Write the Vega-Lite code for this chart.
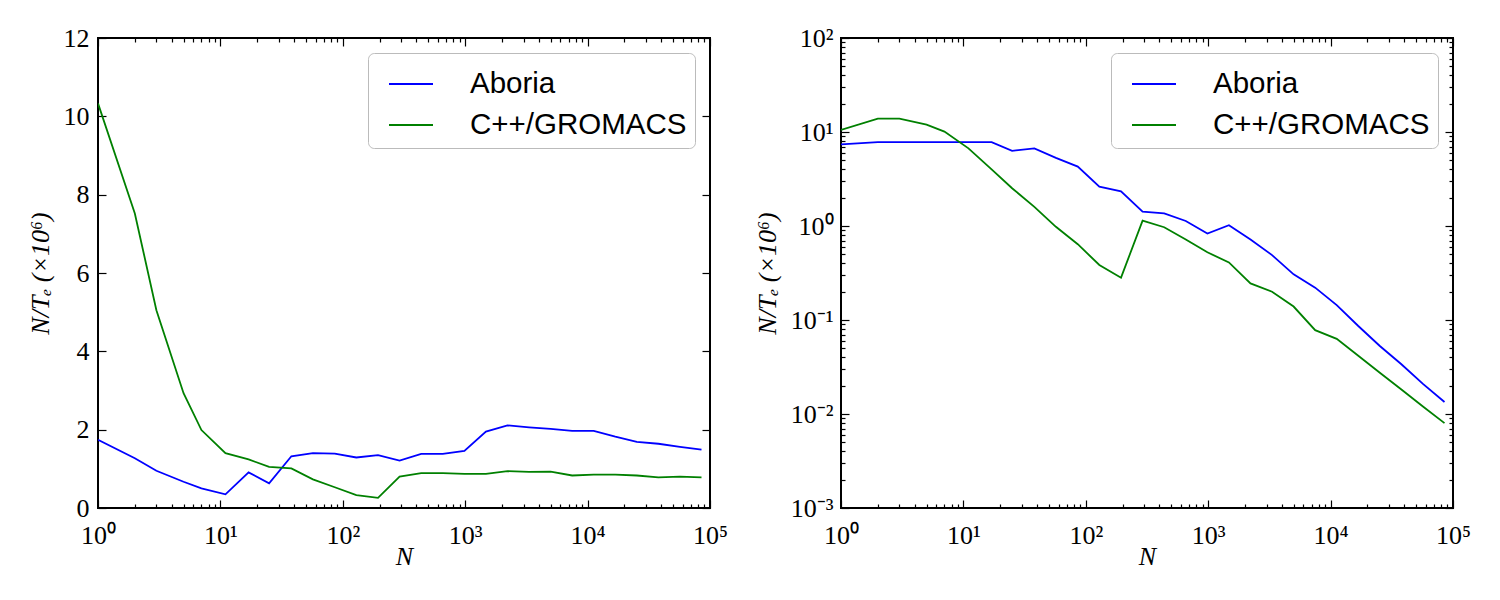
{
  "$schema": "https://vega.github.io/schema/vega-lite/v6.json",
  "background": "white",
  "padding": {"left": 26, "top": 24, "right": 5, "bottom": 5},
  "spacing": 24,
  "config": {
    "view": {"stroke": "black", "strokeWidth": 2},
    "axis": {"domain": false, "grid": false, "tickColor": "black", "tickWidth": 1.2, "labelFont": "Liberation Serif", "labelFontSize": 26, "labelColor": "black", "titleFont": "Liberation Serif", "titleFontSize": 26, "titleFontWeight": "normal", "titleColor": "black", "labelFlush": false, "labelOverlap": false},
    "legend": {"orient": "top-right", "offset": 15, "title": null, "labelFont": "Liberation Sans", "labelFontSize": 29.5, "labelColor": "black", "labelLimit": 0, "symbolType": "stroke", "symbolStrokeWidth": 1.8, "symbolSize": 1936, "strokeColor": "#bbbbbb", "cornerRadius": 6, "padding": 8, "rowPadding": 3, "labelOffset": 36, "symbolOffset": 12, "fillColor": "white"}
  },
  "datasets": {
    "left": [
      {"N":1,"s":"Aboria","v":1.74},{"N":2,"s":"Aboria","v":1.27},{"N":3,"s":"Aboria","v":0.95},{"N":5,"s":"Aboria","v":0.67},{"N":7,"s":"Aboria","v":0.50},{"N":11,"s":"Aboria","v":0.35},{"N":17,"s":"Aboria","v":0.91},{"N":25,"s":"Aboria","v":0.63},{"N":38,"s":"Aboria","v":1.32},{"N":57,"s":"Aboria","v":1.40},{"N":86,"s":"Aboria","v":1.39},{"N":129,"s":"Aboria","v":1.29},{"N":194,"s":"Aboria","v":1.35},{"N":291,"s":"Aboria","v":1.21},{"N":437,"s":"Aboria","v":1.38},{"N":656,"s":"Aboria","v":1.38},{"N":985,"s":"Aboria","v":1.46},{"N":1477,"s":"Aboria","v":1.95},{"N":2216,"s":"Aboria","v":2.11},{"N":3325,"s":"Aboria","v":2.06},{"N":4987,"s":"Aboria","v":2.02},{"N":7481,"s":"Aboria","v":1.97},{"N":11222,"s":"Aboria","v":1.97},{"N":16834,"s":"Aboria","v":1.82},{"N":25251,"s":"Aboria","v":1.69},{"N":37876,"s":"Aboria","v":1.64},{"N":56815,"s":"Aboria","v":1.56},{"N":85222,"s":"Aboria","v":1.49},
      {"N":1,"s":"C++/GROMACS","v":10.33},{"N":2,"s":"C++/GROMACS","v":7.52},{"N":3,"s":"C++/GROMACS","v":5.05},{"N":5,"s":"C++/GROMACS","v":2.93},{"N":7,"s":"C++/GROMACS","v":1.99},{"N":11,"s":"C++/GROMACS","v":1.40},{"N":17,"s":"C++/GROMACS","v":1.24},{"N":25,"s":"C++/GROMACS","v":1.05},{"N":38,"s":"C++/GROMACS","v":1.01},{"N":57,"s":"C++/GROMACS","v":0.73},{"N":86,"s":"C++/GROMACS","v":0.53},{"N":129,"s":"C++/GROMACS","v":0.33},{"N":194,"s":"C++/GROMACS","v":0.26},{"N":291,"s":"C++/GROMACS","v":0.80},{"N":437,"s":"C++/GROMACS","v":0.89},{"N":656,"s":"C++/GROMACS","v":0.89},{"N":985,"s":"C++/GROMACS","v":0.87},{"N":1477,"s":"C++/GROMACS","v":0.87},{"N":2216,"s":"C++/GROMACS","v":0.94},{"N":3325,"s":"C++/GROMACS","v":0.92},{"N":4987,"s":"C++/GROMACS","v":0.93},{"N":7481,"s":"C++/GROMACS","v":0.83},{"N":11222,"s":"C++/GROMACS","v":0.85},{"N":16834,"s":"C++/GROMACS","v":0.85},{"N":25251,"s":"C++/GROMACS","v":0.83},{"N":37876,"s":"C++/GROMACS","v":0.78},{"N":56815,"s":"C++/GROMACS","v":0.80},{"N":85222,"s":"C++/GROMACS","v":0.78}
    ],
    "right": [
      {"N":1,"s":"Aboria","v":7.4},{"N":2,"s":"Aboria","v":7.8},{"N":3,"s":"Aboria","v":7.8},{"N":5,"s":"Aboria","v":7.8},{"N":7,"s":"Aboria","v":7.8},{"N":11,"s":"Aboria","v":7.8},{"N":17,"s":"Aboria","v":7.8},{"N":25,"s":"Aboria","v":6.3},{"N":38,"s":"Aboria","v":6.7},{"N":57,"s":"Aboria","v":5.3},{"N":86,"s":"Aboria","v":4.28},{"N":129,"s":"Aboria","v":2.62},{"N":194,"s":"Aboria","v":2.34},{"N":291,"s":"Aboria","v":1.42},{"N":437,"s":"Aboria","v":1.36},{"N":656,"s":"Aboria","v":1.13},{"N":985,"s":"Aboria","v":0.83},{"N":1477,"s":"Aboria","v":1.02},{"N":2216,"s":"Aboria","v":0.72},{"N":3325,"s":"Aboria","v":0.49},{"N":4987,"s":"Aboria","v":0.306},{"N":7481,"s":"Aboria","v":0.221},{"N":11222,"s":"Aboria","v":0.144},{"N":16834,"s":"Aboria","v":0.0863},{"N":25251,"s":"Aboria","v":0.0529},{"N":37876,"s":"Aboria","v":0.0338},{"N":56815,"s":"Aboria","v":0.0209},{"N":85222,"s":"Aboria","v":0.0134},
      {"N":1,"s":"C++/GROMACS","v":10.5},{"N":2,"s":"C++/GROMACS","v":13.9},{"N":3,"s":"C++/GROMACS","v":13.9},{"N":5,"s":"C++/GROMACS","v":12.0},{"N":7,"s":"C++/GROMACS","v":10.1},{"N":11,"s":"C++/GROMACS","v":6.7},{"N":17,"s":"C++/GROMACS","v":4.0},{"N":25,"s":"C++/GROMACS","v":2.52},{"N":38,"s":"C++/GROMACS","v":1.60},{"N":57,"s":"C++/GROMACS","v":0.98},{"N":86,"s":"C++/GROMACS","v":0.64},{"N":129,"s":"C++/GROMACS","v":0.385},{"N":194,"s":"C++/GROMACS","v":0.282},{"N":291,"s":"C++/GROMACS","v":1.14},{"N":437,"s":"C++/GROMACS","v":0.97},{"N":656,"s":"C++/GROMACS","v":0.72},{"N":985,"s":"C++/GROMACS","v":0.525},{"N":1477,"s":"C++/GROMACS","v":0.41},{"N":2216,"s":"C++/GROMACS","v":0.245},{"N":3325,"s":"C++/GROMACS","v":0.200},{"N":4987,"s":"C++/GROMACS","v":0.139},{"N":7481,"s":"C++/GROMACS","v":0.078},{"N":11222,"s":"C++/GROMACS","v":0.063},{"N":16834,"s":"C++/GROMACS","v":0.0417},{"N":25251,"s":"C++/GROMACS","v":0.0275},{"N":37876,"s":"C++/GROMACS","v":0.0182},{"N":56815,"s":"C++/GROMACS","v":0.0120},{"N":85222,"s":"C++/GROMACS","v":0.0080}
    ]
  },
  "resolve": {"scale": {"color": "independent"}, "legend": {"color": "independent"}},
  "hconcat": [
    {
      "width": 612, "height": 470,
      "data": {"name": "left"},
      "resolve": {"axis": {"x": "independent", "y": "independent"}},
      "layer": [
        {
          "mark": {"type": "line", "strokeWidth": 1.8, "clip": true},
          "encoding": {
            "x": {"field": "N", "type": "quantitative", "scale": {"type": "log", "domain": [1, 100000]},
              "axis": {"orient": "bottom", "values": [1,10,100,1000,10000,100000], "tickSize": -8,
                "labelExpr": "'10' + ['⁰','¹','²','³','⁴','⁵'][round(log(datum.value)/LN10)]",
                "labelPadding": 22, "title": "N", "titleFontStyle": "italic", "titlePadding": -5}},
            "y": {"field": "v", "type": "quantitative", "scale": {"domain": [0, 12]},
              "axis": {"orient": "left", "values": [0,2,4,6,8,10,12], "tickSize": -8, "labelPadding": 17, "title": "N/Tₑ (×10⁶)", "titleFontStyle": "italic", "titlePadding": 10}},
            "color": {"field": "s", "type": "nominal", "scale": {"domain": ["Aboria", "C++/GROMACS"], "range": ["#0000ff", "#008000"]}}
          }
        },
        {
          "mark": {"type": "line", "strokeOpacity": 0},
          "encoding": {
            "x": {"field": "N", "type": "quantitative", "axis": {"orient": "top", "values": [1,10,100,1000,10000,100000], "labels": false, "title": null, "tickSize": -8}},
            "y": {"field": "v", "type": "quantitative", "axis": {"orient": "right", "values": [0,2,4,6,8,10,12], "labels": false, "title": null, "tickSize": -8}},
            "detail": {"field": "s"}
          }
        },
        {
          "mark": {"type": "line", "strokeOpacity": 0},
          "encoding": {
            "x": {"field": "N", "type": "quantitative", "axis": {"orient": "bottom", "values": [2,3,4,5,6,7,8,9,20,30,40,50,60,70,80,90,200,300,400,500,600,700,800,900,2000,3000,4000,5000,6000,7000,8000,9000,20000,30000,40000,50000,60000,70000,80000,90000], "labels": false, "title": null, "tickSize": -4}},
            "y": {"field": "v", "type": "quantitative", "axis": null},
            "detail": {"field": "s"}
          }
        },
        {
          "mark": {"type": "line", "strokeOpacity": 0},
          "encoding": {
            "x": {"field": "N", "type": "quantitative", "axis": {"orient": "top", "values": [2,3,4,5,6,7,8,9,20,30,40,50,60,70,80,90,200,300,400,500,600,700,800,900,2000,3000,4000,5000,6000,7000,8000,9000,20000,30000,40000,50000,60000,70000,80000,90000], "labels": false, "title": null, "tickSize": -4}},
            "y": {"field": "v", "type": "quantitative", "axis": null},
            "detail": {"field": "s"}
          }
        }
      ]
    },
    {
      "width": 612, "height": 470,
      "data": {"name": "right"},
      "resolve": {"axis": {"x": "independent", "y": "independent"}},
      "layer": [
        {
          "mark": {"type": "line", "strokeWidth": 1.8, "clip": true},
          "encoding": {
            "x": {"field": "N", "type": "quantitative", "scale": {"type": "log", "domain": [1, 100000]},
              "axis": {"orient": "bottom", "values": [1,10,100,1000,10000,100000], "tickSize": -8,
                "labelExpr": "'10' + ['⁰','¹','²','³','⁴','⁵'][round(log(datum.value)/LN10)]",
                "labelPadding": 22, "title": "N", "titleFontStyle": "italic", "titlePadding": -5}},
            "y": {"field": "v", "type": "quantitative", "scale": {"type": "log", "domain": [0.001, 100]},
              "axis": {"orient": "left", "values": [0.001,0.01,0.1,1,10,100], "tickSize": -8,
                "labelExpr": "'10' + (round(log(datum.value)/LN10) < 0 ? '⁻' : '') + ['⁰','¹','²','³','⁴','⁵'][abs(round(log(datum.value)/LN10))]",
                "labelPadding": 16, "title": "N/Tₑ (×10⁶)", "titleFontStyle": "italic", "titlePadding": 10}},
            "color": {"field": "s", "type": "nominal", "scale": {"domain": ["Aboria", "C++/GROMACS"], "range": ["#0000ff", "#008000"]}}
          }
        },
        {
          "mark": {"type": "line", "strokeOpacity": 0},
          "encoding": {
            "x": {"field": "N", "type": "quantitative", "axis": {"orient": "top", "values": [1,10,100,1000,10000,100000], "labels": false, "title": null, "tickSize": -8}},
            "y": {"field": "v", "type": "quantitative", "axis": {"orient": "right", "values": [0.001,0.01,0.1,1,10,100], "labels": false, "title": null, "tickSize": -8}},
            "detail": {"field": "s"}
          }
        },
        {
          "mark": {"type": "line", "strokeOpacity": 0},
          "encoding": {
            "x": {"field": "N", "type": "quantitative", "axis": {"orient": "bottom", "values": [2,3,4,5,6,7,8,9,20,30,40,50,60,70,80,90,200,300,400,500,600,700,800,900,2000,3000,4000,5000,6000,7000,8000,9000,20000,30000,40000,50000,60000,70000,80000,90000], "labels": false, "title": null, "tickSize": -4}},
            "y": {"field": "v", "type": "quantitative", "axis": {"orient": "left", "values": [0.002,0.003,0.004,0.005,0.006,0.007,0.008,0.009,0.02,0.03,0.04,0.05,0.06,0.07,0.08,0.09,0.2,0.3,0.4,0.5,0.6,0.7,0.8,0.9,2,3,4,5,6,7,8,9,20,30,40,50,60,70,80,90], "labels": false, "title": null, "tickSize": -4}},
            "detail": {"field": "s"}
          }
        },
        {
          "mark": {"type": "line", "strokeOpacity": 0},
          "encoding": {
            "x": {"field": "N", "type": "quantitative", "axis": {"orient": "top", "values": [2,3,4,5,6,7,8,9,20,30,40,50,60,70,80,90,200,300,400,500,600,700,800,900,2000,3000,4000,5000,6000,7000,8000,9000,20000,30000,40000,50000,60000,70000,80000,90000], "labels": false, "title": null, "tickSize": -4}},
            "y": {"field": "v", "type": "quantitative", "axis": {"orient": "right", "values": [0.002,0.003,0.004,0.005,0.006,0.007,0.008,0.009,0.02,0.03,0.04,0.05,0.06,0.07,0.08,0.09,0.2,0.3,0.4,0.5,0.6,0.7,0.8,0.9,2,3,4,5,6,7,8,9,20,30,40,50,60,70,80,90], "labels": false, "title": null, "tickSize": -4}},
            "detail": {"field": "s"}
          }
        }
      ]
    }
  ]
}
